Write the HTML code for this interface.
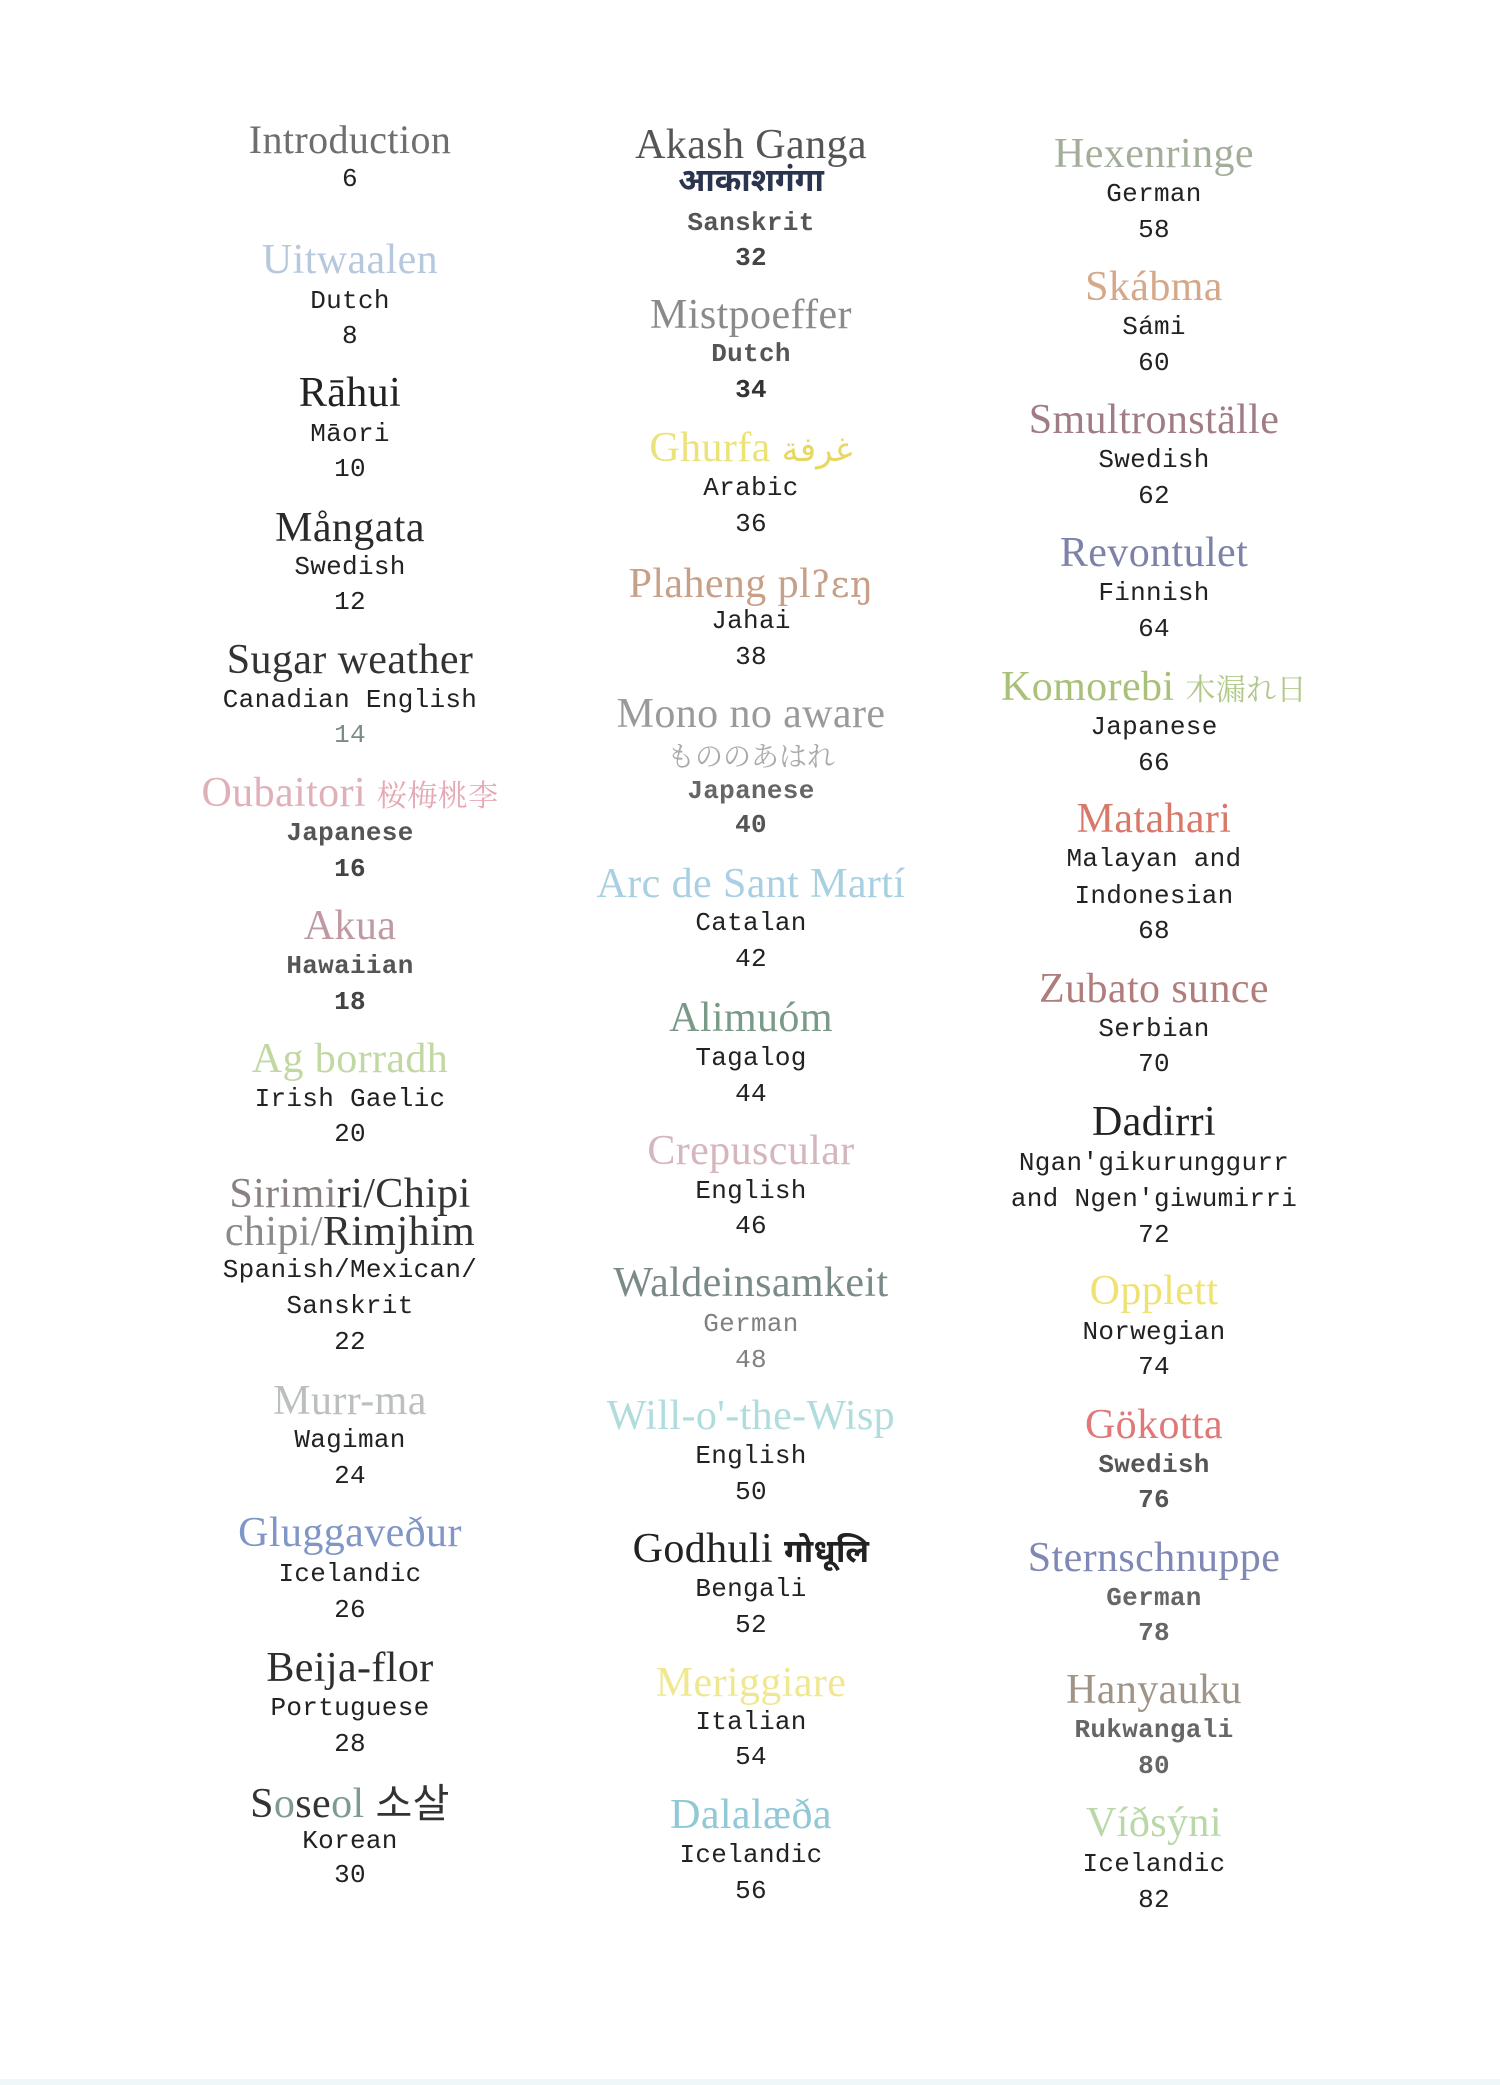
<!DOCTYPE html>
<html><head><meta charset="utf-8">
<style>
html,body{margin:0;padding:0;background:#fff;}
body{width:1500px;height:2085px;position:relative;overflow:hidden;}
.a{position:absolute;width:560px;margin-left:-280px;text-align:center;white-space:nowrap;height:50px;line-height:50px;}
.s{font-family:"Liberation Serif","DejaVu Serif","Noto Serif CJK SC",serif;font-size:42px;letter-spacing:0.4px;margin-top:4px;}
.m{font-family:"Liberation Mono","DejaVu Sans Mono",monospace;font-size:26px;color:#222;letter-spacing:0.3px;}
.g{color:#555;font-weight:bold;}
.c1{left:350px}.c2{left:751px}.c3{left:1154px}
.dv{font-family:"Noto Sans Devanagari","Lohit Devanagari","FreeSans","DejaVu Sans",sans-serif;font-weight:bold;margin-top:3px;}
.cjk{font-family:"Noto Serif CJK JP","Noto Sans CJK JP",serif;font-size:30px;}
</style></head><body>

<!-- Column 1 -->
<div class="a s c1" style="top:111px;color:#6e6e6e;font-size:40px">Introduction</div>
<div class="a m c1" style="top:154px">6</div>

<div class="a s c1" style="top:231px;color:#b6c8de">Uitwaalen</div>
<div class="a m c1" style="top:276px">Dutch</div>
<div class="a m c1" style="top:311px">8</div>

<div class="a s c1" style="top:364px;color:#222">Rāhui</div>
<div class="a m c1" style="top:409px">Māori</div>
<div class="a m c1" style="top:444px">10</div>

<div class="a s c1" style="top:499px;color:#2a2a2a">Mångata</div>
<div class="a m c1" style="top:542px">Swedish</div>
<div class="a m c1" style="top:577px">12</div>

<div class="a s c1" style="top:631px;color:#333">Sugar weather</div>
<div class="a m c1" style="top:675px">Canadian English</div>
<div class="a m c1" style="top:710px;color:#7a8c88">14</div>

<div class="a s c1" style="top:764px;color:#e0b0b8">Oubaitori <span class="cjk" style="color:#e6a8b4">桜梅桃李</span></div>
<div class="a m c1 g" style="top:808px">Japanese</div>
<div class="a m c1 g" style="top:844px;color:#444">16</div>

<div class="a s c1" style="top:897px;color:#c09aa2">Akua</div>
<div class="a m c1 g" style="top:941px">Hawaiian</div>
<div class="a m c1 g" style="top:977px;color:#444">18</div>

<div class="a s c1" style="top:1030px;color:#c2d8a2">Ag borradh</div>
<div class="a m c1" style="top:1074px">Irish Gaelic</div>
<div class="a m c1" style="top:1109px">20</div>

<div class="a s c1" style="top:1165px;color:#333"><span style="color:#8a8080">Sirimi</span>ri/Chipi</div>
<div class="a s c1" style="top:1203px;color:#333"><span style="color:#8a8a8a">chipi/</span>Rimjhim</div>
<div class="a m c1" style="top:1245px">Spanish/Mexican/</div>
<div class="a m c1" style="top:1281px">Sanskrit</div>
<div class="a m c1" style="top:1317px">22</div>

<div class="a s c1" style="top:1372px;color:#bcc0bc">Murr-ma</div>
<div class="a m c1" style="top:1415px">Wagiman</div>
<div class="a m c1" style="top:1451px">24</div>

<div class="a s c1" style="top:1504px;color:#7f96c6">Gluggaveður</div>
<div class="a m c1" style="top:1549px">Icelandic</div>
<div class="a m c1" style="top:1585px">26</div>

<div class="a s c1" style="top:1639px;color:#2e2e2e">Beija-flor</div>
<div class="a m c1" style="top:1683px">Portuguese</div>
<div class="a m c1" style="top:1719px">28</div>

<div class="a s c1" style="top:1771px;color:#333">S<span style="color:#7f9a90">o</span>se<span style="color:#7f9a90">ol</span> <span style="font-family:'Noto Sans CJK KR','NanumGothic',sans-serif;font-size:40px">소살</span></div>
<div class="a m c1" style="top:1816px">Korean</div>
<div class="a m c1" style="top:1850px">30</div>

<!-- Column 2 -->
<div class="a s c2" style="top:116px;color:#555">Akash Ganga</div>
<div class="a c2 dv" style="top:156px;color:#2b3550;font-size:32px">आकाशगंगा</div>
<div class="a m c2 g" style="top:198px">Sanskrit</div>
<div class="a m c2 g" style="top:233px;color:#444">32</div>

<div class="a s c2" style="top:286px;color:#8a8a8a">Mistpoeffer</div>
<div class="a m c2 g" style="top:329px">Dutch</div>
<div class="a m c2 g" style="top:365px;color:#333">34</div>

<div class="a s c2" style="top:419px;color:#ece27a">Ghurfa <span style="font-family:'DejaVu Sans',sans-serif;font-size:34px;color:#e8d860">غرفة</span></div>
<div class="a m c2" style="top:463px">Arabic</div>
<div class="a m c2" style="top:499px">36</div>

<div class="a s c2" style="top:555px;color:#c8a088">Plaheng pl<span style="font-family:'DejaVu Serif',serif;font-size:36px">ʔɛŋ</span></div>
<div class="a m c2" style="top:596px">Jahai</div>
<div class="a m c2" style="top:632px">38</div>

<div class="a s c2" style="top:685px;color:#9a9a9a">Mono no aware</div>
<div class="a c2 cjk" style="top:730px;color:#aaa;font-size:28px">もののあはれ</div>
<div class="a m c2 g" style="top:766px;color:#666">Japanese</div>
<div class="a m c2 g" style="top:800px">40</div>

<div class="a s c2" style="top:855px;color:#a8d0e2">Arc de Sant Martí</div>
<div class="a m c2" style="top:898px">Catalan</div>
<div class="a m c2" style="top:934px">42</div>

<div class="a s c2" style="top:989px;color:#7a9a88">Alimuóm</div>
<div class="a m c2" style="top:1033px">Tagalog</div>
<div class="a m c2" style="top:1069px">44</div>

<div class="a s c2" style="top:1122px;color:#d4b6bc">Crepuscular</div>
<div class="a m c2" style="top:1166px">English</div>
<div class="a m c2" style="top:1201px">46</div>

<div class="a s c2" style="top:1254px;color:#7a8a88">Waldeinsamkeit</div>
<div class="a m c2" style="top:1299px;color:#808080">German</div>
<div class="a m c2" style="top:1335px;color:#808080">48</div>

<div class="a s c2" style="top:1387px;color:#b0dcdc">Will-o'-the-Wisp</div>
<div class="a m c2" style="top:1431px">English</div>
<div class="a m c2" style="top:1467px">50</div>

<div class="a s c2" style="top:1520px;color:#222">Godhuli <span class="dv" style="font-size:32px">गोधूलि</span></div>
<div class="a m c2" style="top:1564px">Bengali</div>
<div class="a m c2" style="top:1600px">52</div>

<div class="a s c2" style="top:1654px;color:#f0e890">Meriggiare</div>
<div class="a m c2" style="top:1697px">Italian</div>
<div class="a m c2" style="top:1732px">54</div>

<div class="a s c2" style="top:1786px;color:#90c8d8">Dalalæða</div>
<div class="a m c2" style="top:1830px">Icelandic</div>
<div class="a m c2" style="top:1866px">56</div>

<!-- Column 3 -->
<div class="a s c3" style="top:125px;color:#a2ae9a">Hexenringe</div>
<div class="a m c3" style="top:169px">German</div>
<div class="a m c3" style="top:205px">58</div>

<div class="a s c3" style="top:258px;color:#d4a888">Skábma</div>
<div class="a m c3" style="top:302px">Sámi</div>
<div class="a m c3" style="top:338px">60</div>

<div class="a s c3" style="top:391px;color:#a07c84">Smultronställe</div>
<div class="a m c3" style="top:435px">Swedish</div>
<div class="a m c3" style="top:471px">62</div>

<div class="a s c3" style="top:524px;color:#7c82aa">Revontulet</div>
<div class="a m c3" style="top:568px">Finnish</div>
<div class="a m c3" style="top:604px">64</div>

<div class="a s c3" style="top:658px;color:#a8c078">Komorebi <span class="cjk" style="color:#b0c888">木漏れ日</span></div>
<div class="a m c3" style="top:702px">Japanese</div>
<div class="a m c3" style="top:738px">66</div>

<div class="a s c3" style="top:790px;color:#d87868">Matahari</div>
<div class="a m c3" style="top:834px">Malayan and</div>
<div class="a m c3" style="top:871px">Indonesian</div>
<div class="a m c3" style="top:906px">68</div>

<div class="a s c3" style="top:960px;color:#b07c7c">Zubato sunce</div>
<div class="a m c3" style="top:1004px">Serbian</div>
<div class="a m c3" style="top:1039px">70</div>

<div class="a s c3" style="top:1093px;color:#222">Dadirri</div>
<div class="a m c3" style="top:1138px">Ngan'gikurunggurr</div>
<div class="a m c3" style="top:1174px">and Ngen'giwumirri</div>
<div class="a m c3" style="top:1210px">72</div>

<div class="a s c3" style="top:1262px;color:#f0e272">Opplett</div>
<div class="a m c3" style="top:1307px">Norwegian</div>
<div class="a m c3" style="top:1342px">74</div>

<div class="a s c3" style="top:1396px;color:#e07878">Gökotta</div>
<div class="a m c3 g" style="top:1440px">Swedish</div>
<div class="a m c3 g" style="top:1475px">76</div>

<div class="a s c3" style="top:1529px;color:#8088b6">Sternschnuppe</div>
<div class="a m c3 g" style="top:1573px;color:#666">German</div>
<div class="a m c3 g" style="top:1608px;color:#666">78</div>

<div class="a s c3" style="top:1661px;color:#a09488">Hanyauku</div>
<div class="a m c3 g" style="top:1705px;color:#666">Rukwangali</div>
<div class="a m c3 g" style="top:1741px;color:#666">80</div>

<div class="a s c3" style="top:1794px;color:#b8d8a8">Víðsýni</div>
<div class="a m c3" style="top:1839px">Icelandic</div>
<div class="a m c3" style="top:1875px">82</div>

<div style="position:absolute;left:0;top:2079px;width:1500px;height:6px;background:#eef8f8"></div>
</body></html>
